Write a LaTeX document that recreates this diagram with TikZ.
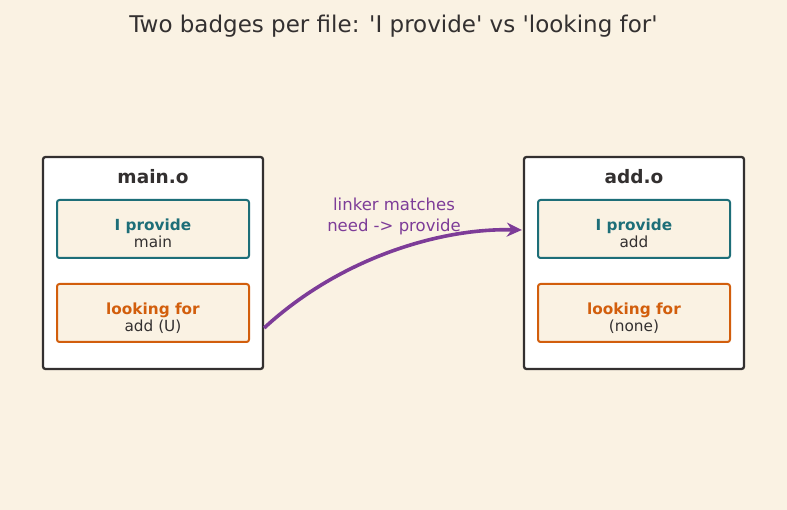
\documentclass[tikz,border=0pt]{standalone}
\usepackage{fontspec}
\setmainfont{DejaVu Sans}
\usetikzlibrary{arrows.meta}
\definecolor{bg}{HTML}{FAF2E3}
\definecolor{ink}{HTML}{333030}
\definecolor{teal}{HTML}{1D6E78}
\definecolor{orng}{HTML}{D25E0C}
\definecolor{purp}{HTML}{7D3C98}
\newcommand{\badgetext}[2]{\raisebox{-10.5pt}[0pt][0pt]{\begin{tabular}{@{}c@{}}#1\\#2\end{tabular}}}
\tikzset{
  filebox/.style={draw=ink, line width=2.3pt, fill=white, rounded corners=2.5pt, minimum width=220pt, minimum height=212pt, inner sep=0pt},
  badgebase/.style={line width=2pt, fill=bg, rounded corners=2.5pt, minimum width=192pt, minimum height=58pt, inner sep=0pt, font=\fontsize{15.3pt}{17pt}\selectfont, text=ink},
  providebadge/.style={badgebase, draw=teal},
  lookbadge/.style={badgebase, draw=orng},
  filetitle/.style={font=\bfseries\fontsize{18.5pt}{20pt}\selectfont, text=ink},
}
\renewcommand{\arraystretch}{1}
\begin{document}
\begin{tikzpicture}[x=1pt,y=-1pt]
\fill[bg] (0,0) rectangle (787,510);
\useasboundingbox (0,0) rectangle (787,510);
\node[font=\fontsize{23pt}{26pt}\selectfont, text=ink] (title) at (393.5,26) {Two badges per file: \textquotesingle I provide\textquotesingle{} vs \textquotesingle looking for\textquotesingle};

\node[filebox] (mainbox) at (153,263) {};
\node[filetitle] (maint) at (153,177) {main.o};
\node[providebadge] (mainprov) at (153,229) {\badgetext{\textcolor{teal}{\bfseries I provide}}{main}};
\node[lookbadge] (mainlook) at (153,313) {\badgetext{\textcolor{orng}{\bfseries looking for}}{add (U)}};

\node[filebox] (addbox) at (634,263) {};
\node[filetitle] (addt) at (634,177) {add.o};
\node[providebadge] (addprov) at (634,229) {\badgetext{\textcolor{teal}{\bfseries I provide}}{add}};
\node[lookbadge] (addlook) at (634,313) {\badgetext{\textcolor{orng}{\bfseries looking for}}{(none)}};

\node[text=purp, align=center, font=\fontsize{16.5pt}{21pt}\selectfont] (lbl) at (394,216) {linker matches\\need -> provide};

\draw[purp, line width=3.6pt, -{Stealth[length=15pt,width=14pt]}] ([yshift=-65pt]mainbox.east) .. controls (340,258) and (440,228) .. ([yshift=33pt,xshift=-1pt]addbox.west);
\end{tikzpicture}
\end{document}
